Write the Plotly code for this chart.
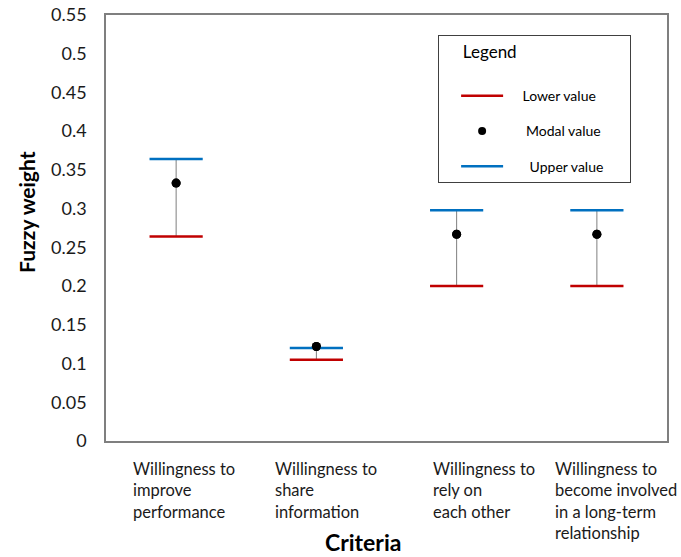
import plotly.graph_objects as go

categories = [
    "Willingness to<br>improve<br>performance",
    "Willingness to<br>share<br>information",
    "Willingness to<br>rely on<br>each other",
    "Willingness to<br>become involved<br>in a long-term<br>relationship",
]
lower_values = [0.264, 0.105, 0.200, 0.200]
modal_values = [0.333, 0.122, 0.267, 0.267]
upper_values = [0.364, 0.120, 0.298, 0.298]
y_ticks = [0, 0.05, 0.1, 0.15, 0.2, 0.25, 0.3, 0.35, 0.4, 0.45, 0.5, 0.55]
y_tick_labels = ["0", "0.05", "0.1", "0.15", "0.2", "0.25", "0.3", "0.35", "0.4", "0.45", "0.5", "0.55"]

FONT = "Lato"
RED = "#c00000"
BLUE = "#0070c0"

fig = go.Figure()

err_plus = [u - m if u > m else 0 for u, m in zip(upper_values, modal_values)]
err_minus = [m - l for m, l in zip(modal_values, lower_values)]

fig.add_trace(go.Scatter(
    x=categories, y=modal_values, mode="markers",
    marker=dict(color="black", size=9),
    error_y=dict(type="data", symmetric=False, array=err_plus, arrayminus=err_minus,
                 color="#7f7f7f", thickness=1, width=0),
    showlegend=False, hoverinfo="skip"))

fig.add_trace(go.Scatter(
    x=categories, y=lower_values, mode="markers",
    marker=dict(symbol="line-ew", size=38, line=dict(color=RED, width=2.5)),
    showlegend=False))
fig.add_trace(go.Scatter(
    x=categories, y=upper_values, mode="markers",
    marker=dict(symbol="line-ew", size=38, line=dict(color=BLUE, width=2.5)),
    showlegend=False))
fig.add_trace(go.Scatter(
    x=categories, y=modal_values, mode="markers",
    marker=dict(color="black", size=9), showlegend=False))

# legend entries
lead = "&nbsp;" * 4
pad = "&nbsp;" * 6
fig.add_trace(go.Scatter(x=[None], y=[None], mode="lines", name=lead + "Lower value" + pad,
                         line=dict(color=RED, width=2.5), legendgroup="a"))
fig.add_trace(go.Scatter(x=[None], y=[None], mode="markers", name=lead + " Modal value" + pad,
                         marker=dict(color="black", size=8), legendgroup="b"))
fig.add_trace(go.Scatter(x=[None], y=[None], mode="lines", name=lead + "  Upper value" + pad,
                         line=dict(color=BLUE, width=2.5), legendgroup="c"))

label_shifts = [-45, -43, -26, -44]
for cat, sh in zip(categories, label_shifts):
    fig.add_annotation(x=cat, y=0, xref="x", yref="paper", yanchor="top", xanchor="left",
                       xshift=sh, yshift=-16, text=cat, showarrow=False, align="left",
                       font=dict(family=FONT, size=16.5, color="#1a1a1a"))

fig.add_annotation(x=0.458, y=-0.238, xref="paper", yref="paper", text="<b>Criteria</b>",
                   xanchor="center", yanchor="middle",
                   showarrow=False, font=dict(family=FONT, size=23, color="black"))
fig.add_annotation(x=-0.141, y=0.5376, xref="paper", yref="paper", text="<b>Fuzzy weight</b>",
                   xanchor="center", yanchor="middle",
                   textangle=-90, showarrow=False,
                   font=dict(family=FONT, size=21, color="black"))

fig.update_layout(
    width=681, height=557,
    margin=dict(l=106, r=14, t=15, b=116, autoexpand=False),
    paper_bgcolor="white", plot_bgcolor="white",
    font=dict(family=FONT, size=18, color="#1a1a1a"),
    showlegend=True,
    legend=dict(
        title=dict(text="&nbsp;&nbsp;&nbsp;&nbsp;&nbsp;Legend<br>&nbsp;",
                   font=dict(family=FONT, size=17, color="black")),
        x=0.592, y=0.953, xanchor="left", yanchor="top",
        bordercolor="#404040", borderwidth=1, bgcolor="white",
        font=dict(family=FONT, size=14, color="black"),
        tracegroupgap=14, itemwidth=42, indentation=17,
    ),
    xaxis=dict(type="category", range=[-0.5, 3.5], showticklabels=False, showgrid=False,
               showline=True, linecolor="#7f7f7f", linewidth=1.5, mirror=True, ticks="",
               zeroline=False, fixedrange=True),
    yaxis=dict(range=[0, 0.55], tickvals=y_ticks, ticktext=y_tick_labels, showgrid=False,
               showline=True, linecolor="#7f7f7f", linewidth=1.5, mirror=True, ticks="",
               zeroline=False, ticklabelstandoff=14),
)

fig.write_html("out.html", config={"displayModeBar": False},
               post_script="document.body.style.margin='0';")
